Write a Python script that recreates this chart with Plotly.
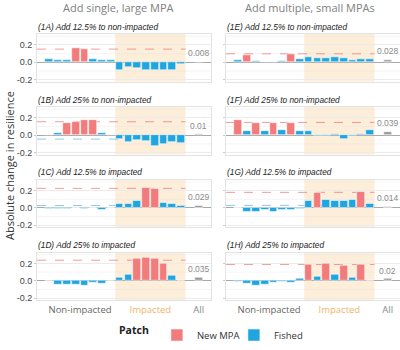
import plotly.graph_objects as go

# ---------------- data ----------------
patch_ids = list(range(1, 17))
all_pos = 18

panel_titles = [
    "(1A) Add 12.5% to non-impacted",
    "(1B) Add 25% to non-impacted",
    "(1C) Add 12.5% to impacted",
    "(1D) Add 25% to impacted",
    "(1E) Add 12.5% to non-impacted",
    "(1F) Add 25% to non-impacted",
    "(1G) Add 12.5% to impacted",
    "(1H) Add 25% to impacted",
]

vals_1A = [0.040, 0.020, 0.020, 0.160, 0.147, 0.040, 0.030, 0.030,
           -0.090, -0.050, -0.070, -0.090, -0.090, -0.090, -0.090, -0.020]
vals_1B = [0.008, 0.026, 0.143, 0.150, 0.170, 0.170, 0.026, 0.008,
           -0.045, -0.075, -0.053, -0.068, -0.128, -0.100, -0.083, -0.090]
vals_1C = [-0.004, -0.004, -0.005, -0.003, -0.011, 0.008, -0.019, 0.004,
           0.045, 0.045, 0.080, 0.237, 0.226, 0.060, 0.045, 0.023]
vals_1D = [-0.003, -0.038, -0.038, -0.038, -0.053, -0.026, -0.034, -0.003,
           0.038, 0.072, 0.256, 0.270, 0.256, 0.200, 0.057, 0.008]
vals_1E = [0.030, 0.087, 0.019, 0.007, 0.007, 0.019, 0.100, 0.041,
           0.064, 0.053, 0.053, 0.064, 0.053, 0.030, 0.041, 0.041]
vals_1F = [0.170, 0.049, 0.136, 0.049, 0.136, 0.057, 0.136, 0.049,
           0.053, -0.004, -0.011, 0.015, -0.045, -0.011, 0.019, 0.064]
vals_1G = [-0.003, -0.038, -0.038, -0.019, -0.038, -0.026, -0.015, -0.005,
           0.080, 0.173, 0.094, 0.083, 0.083, 0.094, 0.189, 0.045]
vals_1H = [-0.011, -0.034, -0.060, -0.049, -0.023, -0.004, -0.026, 0.030,
           0.188, 0.053, 0.200, 0.068, 0.173, 0.041, 0.188, 0.008]

mpa_1A = [4, 5]
mpa_1B = [3, 4, 5, 6]
mpa_1C = [12, 13]
mpa_1D = [11, 12, 13, 14]
mpa_1E = [2, 7]
mpa_1F = [1, 3, 5, 7]
mpa_1G = [10, 15]
mpa_1H = [9, 11, 13, 15]

all_vals = [0.008, 0.010, 0.029, 0.035, 0.028, 0.039, 0.014, 0.020]
all_labels = ["0.008", "0.01", "0.029", "0.035", "0.028", "0.039", "0.014", "0.02"]

mpa_mean_line = [0.152, 0.155, 0.226, 0.237, 0.098, 0.147, 0.180, 0.188]
fished_mean_line = [None, -0.045, 0.028, None, None, None, 0.030, None]

col_titles = ["Add single, large MPA", "Add multiple, small MPAs"]
region_ticks = [4.5, 12.5, 18]
region_labels = ["Non-impacted", "Impacted", "All"]
y_ticks = [-0.2, 0.0, 0.2]

all_vals_list = [vals_1A, vals_1B, vals_1C, vals_1D, vals_1E, vals_1F, vals_1G, vals_1H]
all_mpa_list = [mpa_1A, mpa_1B, mpa_1C, mpa_1D, mpa_1E, mpa_1F, mpa_1G, mpa_1H]

# ---------------- style ----------------
W, H = 400, 350
RED = "#F27B7B"
BLUE = "#1FA5DF"
GREY = "#9A9A9A"
SHADE = "rgba(247,185,100,0.24)"
TXT_FONT = "Liberation Sans"
LAB_FONT = "Open Sans"

x_doms = [[37 / W, 211 / W], [226 / W, 1.0]]
row_tops = [34.3, 107.6, 180.8, 254.0]
ph = 48.0

fig = go.Figure()
shapes = []
annotations = []
layout_axes = {}

for i in range(8):
    col = i // 4
    row = i % 4
    n = i + 1
    xa = "x" if n == 1 else f"x{n}"
    ya = "y" if n == 1 else f"y{n}"
    vals = all_vals_list[i]
    mpa = all_mpa_list[i]

    mx = [p for p in patch_ids if p in mpa]
    my = [vals[p - 1] for p in mx]
    fx = [p for p in patch_ids if p not in mpa]
    fy = [vals[p - 1] for p in fx]

    fig.add_trace(go.Bar(x=mx, y=my, xaxis=xa, yaxis=ya, name="New MPA",
                         marker=dict(color=RED, line=dict(color="rgba(255,255,255,0.9)", width=0.6)),
                         width=0.88, legendgroup="mpa", showlegend=(i == 0)))
    fig.add_trace(go.Bar(x=fx, y=fy, xaxis=xa, yaxis=ya, name="Fished",
                         marker=dict(color=BLUE, line=dict(color="rgba(255,255,255,0.9)", width=0.6)),
                         width=0.88, legendgroup="fished", showlegend=(i == 0)))
    fig.add_trace(go.Bar(x=[all_pos], y=[all_vals[i]], xaxis=xa, yaxis=ya, name="All",
                         marker=dict(color=GREY, line=dict(color="white", width=0.6)),
                         width=0.88, showlegend=False))

    top = row_tops[row]
    ydom = [1 - (top + ph) / H, 1 - top / H]
    layout_axes["xaxis" if n == 1 else f"xaxis{n}"] = dict(
        domain=x_doms[col], anchor=ya, range=[-0.4, 19.4],
        showgrid=False, zeroline=False, showline=True, mirror=True,
        linecolor="#E3E3E3", linewidth=1,
        tickmode="array", tickvals=region_ticks,
        ticktext=["<span style='color:#666666'>Non-impacted</span>",
                  "<span style='color:#F2B46A'>Impacted</span>",
                  "<span style='color:#888888'>All</span>"],
        showticklabels=(row == 3), ticks="",
        tickfont=dict(family=LAB_FONT, size=9.5, color="#666666"),
        fixedrange=True,
    )
    layout_axes["yaxis" if n == 1 else f"yaxis{n}"] = dict(
        domain=ydom, anchor=xa, range=[-0.225, 0.325],
        tickmode="array", tickvals=y_ticks, ticktext=["-0.2", "0.0", "0.2"],
        showticklabels=(col == 0), ticks="outside", ticklen=2, tickcolor="#CCCCCC",
        tickfont=dict(family=TXT_FONT, size=9, color="#444444"),
        showgrid=True, gridcolor="#EBEBEB", gridwidth=0.8,
        zeroline=True, zerolinecolor="#A8A8A8", zerolinewidth=1,
        showline=True, mirror=True, linecolor="#E3E3E3", linewidth=1,
        fixedrange=True,
    )

    shapes.append(dict(type="rect", xref=xa, yref=ya, x0=8.5, x1=16.5,
                       y0=-0.225, y1=0.325, fillcolor=SHADE, line=dict(width=0), layer="below"))
    for gv in [-0.1, 0.1, 0.3]:
        shapes.append(dict(type="line", xref=xa, yref=ya, x0=-0.4, x1=19.4, y0=gv, y1=gv,
                           line=dict(color="rgba(225,225,225,0.6)", width=0.6), layer="below"))
    shapes.append(dict(type="line", xref=xa, yref=ya, x0=-0.4, x1=16.5,
                       y0=mpa_mean_line[i], y1=mpa_mean_line[i],
                       line=dict(color="rgba(240,110,110,0.7)", width=1, dash="dash"),
                       layer="below"))
    if fished_mean_line[i] is not None:
        shapes.append(dict(type="line", xref=xa, yref=ya, x0=-0.4, x1=16.5,
                           y0=fished_mean_line[i], y1=fished_mean_line[i],
                           line=dict(color="rgba(80,170,220,0.65)", width=1, dash="dash"),
                           layer="below"))

    annotations.append(dict(text=f"<i>{panel_titles[i]}</i>", xref="paper", yref="paper",
                            x=x_doms[col][0] - 0.002, y=1 - (top - 7.5) / H,
                            xanchor="left", yanchor="middle", showarrow=False,
                            font=dict(family=TXT_FONT, size=8.3, color="#222222")))
    annotations.append(dict(text=all_labels[i], xref=xa, yref=ya, x=all_pos, y=all_vals[i],
                            xanchor="center", yanchor="bottom", yshift=1.5, showarrow=False,
                            font=dict(family=TXT_FONT, size=8.5, color="#8C8C8C")))

annotations.append(dict(text=col_titles[0], xref="paper", yref="paper", x=118 / W, y=1 - 7.5 / H,
                        xanchor="center", yanchor="middle", showarrow=False,
                        font=dict(family=LAB_FONT, size=11, color="#808080")))
annotations.append(dict(text=col_titles[1], xref="paper", yref="paper", x=310 / W, y=1 - 7.5 / H,
                        xanchor="center", yanchor="middle", showarrow=False,
                        font=dict(family=LAB_FONT, size=11, color="#808080")))
annotations.append(dict(text="Absolute change in resilience", xref="paper", yref="paper",
                        x=9 / W, y=1 - 167 / H, textangle=-90,
                        xanchor="center", yanchor="middle", showarrow=False,
                        font=dict(family=LAB_FONT, size=11, color="#333333")))

fig.update_layout(
    width=W, height=H, autosize=False,
    margin=dict(l=0, r=0, t=0, b=0),
    paper_bgcolor="white", plot_bgcolor="rgba(0,0,0,0)",
    barmode="overlay", bargap=0,
    shapes=shapes, annotations=annotations,
    showlegend=True,
    legend=dict(orientation="h", x=117 / W, y=1 - 337 / H, xanchor="left", yanchor="middle",
                title=dict(text="<b>Patch</b>", side="left",
                           font=dict(family=LAB_FONT, size=10.5, color="#222222")),
                font=dict(family=LAB_FONT, size=9.5, color="#333333"),
                itemwidth=30, entrywidth=32, entrywidthmode="pixels",
                tracegroupgap=0, bgcolor="rgba(0,0,0,0)"),
    **layout_axes,
)

fig.write_html("out.html")
